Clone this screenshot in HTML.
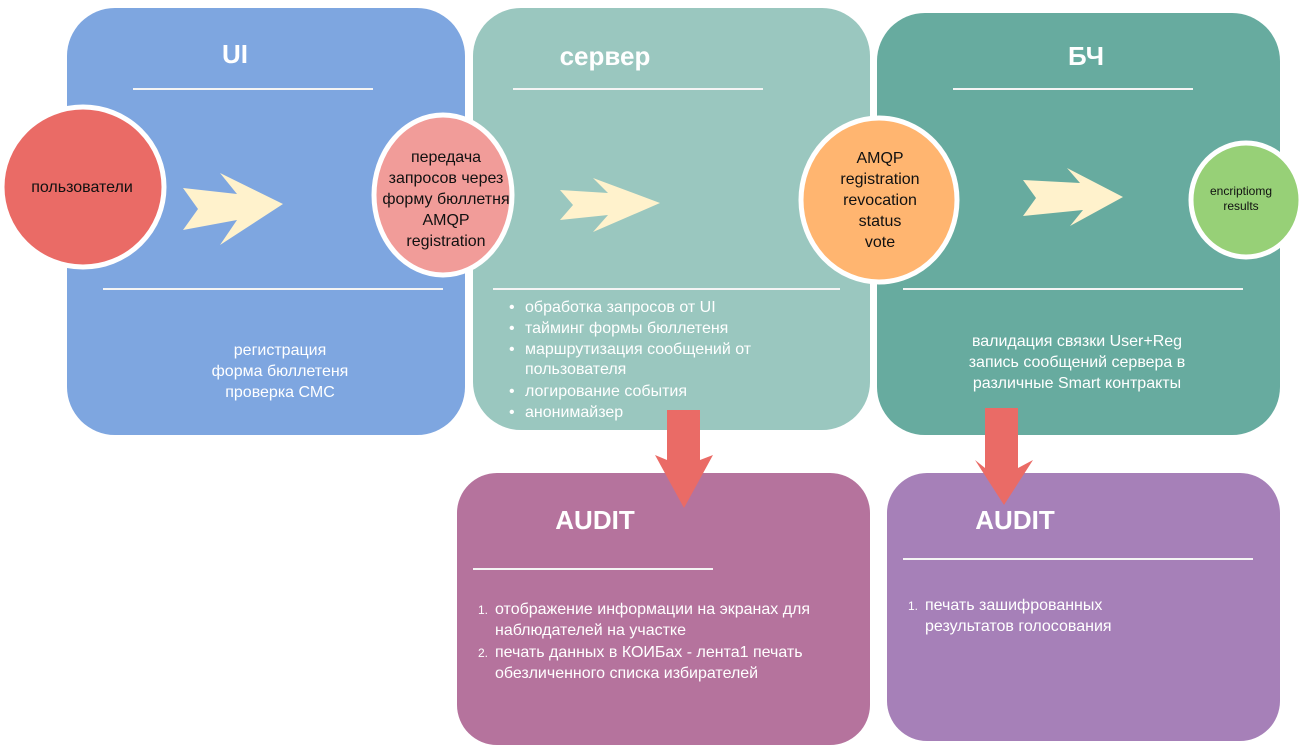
<!DOCTYPE html>
<html><head><meta charset="utf-8"><style>
html,body{margin:0;padding:0;background:#fff;}
svg{display:block;font-family:"Liberation Sans",Arial,sans-serif;}
</style></head><body>
<svg width="1311" height="753" viewBox="0 0 1311 753" xmlns="http://www.w3.org/2000/svg">
<rect x="67" y="8" width="398" height="427" rx="48" fill="#7ea6e0"/>
<rect x="473" y="8" width="397" height="422" rx="48" fill="#9ac7bf"/>
<rect x="877" y="13" width="403" height="422" rx="48" fill="#67ab9f"/>
<rect x="457" y="473" width="413" height="272" rx="40" fill="#b5739d"/>
<rect x="887" y="473" width="393" height="268" rx="40" fill="#a680b8"/>
<g stroke="#f4f4f4" stroke-width="2">
<line x1="133" y1="89" x2="373" y2="89"/>
<line x1="103" y1="289" x2="443" y2="289"/>
<line x1="513" y1="89" x2="763" y2="89"/>
<line x1="493" y1="289" x2="840" y2="289"/>
<line x1="953" y1="89" x2="1193" y2="89"/>
<line x1="903" y1="289" x2="1243" y2="289"/>
<line x1="473" y1="569" x2="713" y2="569"/>
<line x1="903" y1="559" x2="1253" y2="559"/>
</g>
<g fill="#fff" font-weight="bold" font-size="26" text-anchor="middle">
<text x="235" y="63">UI</text>
<text x="605" y="65">сервер</text>
<text x="1086" y="65">БЧ</text>
<text x="595" y="529">AUDIT</text>
<text x="1015" y="529">AUDIT</text>
</g>
<g fill="#fff2cc">
<polygon points="183,188 237,194 220,173 283,204 220,245 237,220 183,230 198,209"/>
<polygon points="560,190 608,193 593,178 660,203 593,232 608,215 560,220 573,205"/>
<polygon points="1023,180 1080,183 1067,168 1123,197 1070,226 1083,210 1023,216 1036,198"/>
</g>
<ellipse cx="83" cy="187" rx="81" ry="80" fill="#ea6b66" stroke="#fff" stroke-width="5"/>
<ellipse cx="443" cy="195" rx="69" ry="80" fill="#f19c99" stroke="#fff" stroke-width="5"/>
<ellipse cx="879" cy="200" rx="78" ry="82" fill="#ffb570" stroke="#fff" stroke-width="5"/>
<ellipse cx="1246" cy="200" rx="55" ry="57" fill="#97d077" stroke="#fff" stroke-width="5"/>
<g fill="#ea6b66">
<polygon points="667,410 700,410 700,460 713,455 684,508 655,455 667,460"/>
<polygon points="985,408 1018,408 1018,468 1033,460 1004,505 975,460 985,468"/>
</g>
<g fill="#111" text-anchor="middle" font-size="16">
<text x="82" y="192">пользователи</text>
<text x="446" y="162">передача</text>
<text x="446" y="183">запросов через</text>
<text x="446" y="204">форму бюллетня</text>
<text x="446" y="225">AMQP</text>
<text x="446" y="246">registration</text>
<text x="880" y="163">AMQP</text>
<text x="880" y="184">registration</text>
<text x="880" y="205">revocation</text>
<text x="880" y="226">status</text>
<text x="880" y="247">vote</text>
<text x="1241" y="195" font-size="12">encriptiomg</text>
<text x="1241" y="210" font-size="12">results</text>
</g>
<g fill="#fff" font-size="16">
<g text-anchor="middle">
<text x="280" y="355">регистрация</text>
<text x="280" y="376">форма бюллетеня</text>
<text x="280" y="397">проверка СМС</text>
<text x="1077" y="346">валидация связки User+Reg</text>
<text x="1077" y="367">запись сообщений сервера в</text>
<text x="1077" y="388">различные Smart контракты</text>
</g>
<text x="509" y="312">•</text><text x="525" y="312">обработка запросов от UI</text>
<text x="509" y="333">•</text><text x="525" y="333">тайминг формы бюллетеня</text>
<text x="509" y="354">•</text><text x="525" y="354">маршрутизация сообщений от</text>
<text x="525" y="374">пользователя</text>
<text x="509" y="396">•</text><text x="525" y="396">логирование события</text>
<text x="509" y="417">•</text><text x="525" y="417">анонимайзер</text>
<text x="478" y="614" font-size="12">1.</text><text x="495" y="614">отображение информации на экранах для</text>
<text x="495" y="635">наблюдателей на участке</text>
<text x="478" y="657" font-size="12">2.</text><text x="495" y="657">печать данных в КОИБах - лента1  печать</text>
<text x="495" y="678">обезличенного списка избирателей</text>
<text x="908" y="610" font-size="12">1.</text><text x="925" y="610">печать зашифрованных</text>
<text x="925" y="631">результатов голосования</text>
</g>
</svg>
</body></html>
